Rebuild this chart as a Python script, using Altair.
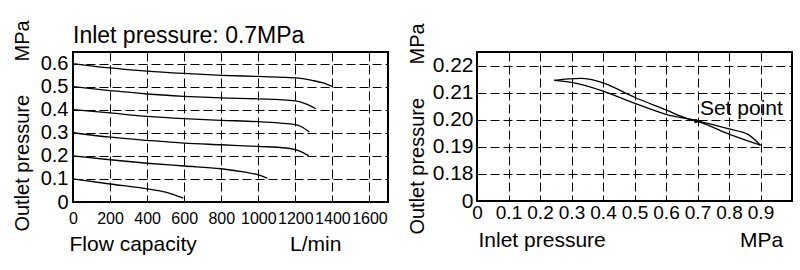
import altair as alt
import pandas as pd

# ---------------- data: left chart (flow characteristics) ----------------
set_names = ["0.6", "0.5", "0.4", "0.3", "0.2", "0.1"]
flow_06 = [0, 200, 400, 600, 800, 1000, 1200, 1290, 1350, 1400]
pres_06 = [0.600, 0.581, 0.567, 0.557, 0.549, 0.544, 0.538, 0.527, 0.516, 0.500]
flow_05 = [0, 200, 400, 600, 800, 1000, 1200, 1260, 1310]
pres_05 = [0.500, 0.483, 0.468, 0.458, 0.451, 0.447, 0.438, 0.424, 0.404]
flow_04 = [0, 200, 400, 600, 800, 1000, 1200, 1235, 1275]
pres_04 = [0.400, 0.386, 0.371, 0.361, 0.354, 0.348, 0.335, 0.325, 0.303]
flow_03 = [0, 200, 400, 600, 800, 1000, 1150, 1220, 1272]
pres_03 = [0.300, 0.281, 0.267, 0.255, 0.248, 0.241, 0.234, 0.222, 0.201]
flow_02 = [0, 200, 400, 600, 800, 930, 1000, 1050]
pres_02 = [0.200, 0.183, 0.168, 0.156, 0.144, 0.129, 0.118, 0.103]
flow_01 = [0, 200, 400, 500, 595]
pres_01 = [0.100, 0.078, 0.057, 0.043, 0.017]

left_x_ticks = [0, 200, 400, 600, 800, 1000, 1200, 1400, 1600]
left_y_ticks = [0, 0.1, 0.2, 0.3, 0.4, 0.5, 0.6]

# ---------------- data: right chart (pressure characteristics) ----------------
pathA_x = [0.245, 0.29, 0.33, 0.36, 0.40, 0.50, 0.60, 0.67, 0.70, 0.80, 0.90]
pathA_y = [0.2145, 0.2151, 0.2153, 0.2149, 0.2136, 0.2083, 0.2036, 0.2003, 0.1994, 0.1947, 0.1906]
pathB_x = [0.245, 0.30, 0.40, 0.50, 0.60, 0.70, 0.80, 0.86, 0.90]
pathB_y = [0.2145, 0.2138, 0.2106, 0.2061, 0.2020, 0.1996, 0.1966, 0.1946, 0.1906]
setpoint_x = [0.695]
setpoint_y = [0.1995]
setpoint_label = ["Set point"]
right_x_ticks = [0, 0.1, 0.2, 0.3, 0.4, 0.5, 0.6, 0.7, 0.8, 0.9]
right_y_ticks = [0.17, 0.18, 0.19, 0.20, 0.21, 0.22]

FONT = "Liberation Sans, Arial, Helvetica, sans-serif"
NB = "\u00a0"

grid_style = dict(grid=True, gridColor="black", gridDash=[9, 4], gridWidth=1,
                  gridOpacity=1, domain=False, ticks=False, tickSize=0,
                  labelColor="black", titleColor="black", titleFont=FONT,
                  titleFontWeight="normal", labelFont=FONT,
                  labelOverlap=False, labelFlush=False)

# ---------------- left chart ----------------
frames = []
for name, f, p in zip(set_names,
                      [flow_06, flow_05, flow_04, flow_03, flow_02, flow_01],
                      [pres_06, pres_05, pres_04, pres_03, pres_02, pres_01]):
    frames.append(pd.DataFrame({"flow": f, "p": p, "set": name}))
left_df = pd.concat(frames, ignore_index=True)

left = alt.Chart(left_df).mark_line(
    color="black", strokeWidth=1.3, interpolate="monotone"
).encode(
    x=alt.X("flow:Q",
            scale=alt.Scale(domain=[0, 1700], nice=False, zero=False),
            axis=alt.Axis(values=left_x_ticks, format="d",
                          title="Flow capacity" + NB * 16 + "L/min",
                          titleX=-4, titleY=48, titleAlign="left",
                          titleAnchor="start", titleBaseline="alphabetic",
                          titleFontSize=21,
                          labelFontSize=16, labelPadding=8,
                          **grid_style)),
    y=alt.Y("p:Q",
            scale=alt.Scale(domain=[0, 0.65], nice=False, zero=False),
            axis=alt.Axis(values=left_y_ticks,
                          title="Outlet pressure" + NB * 6 + "MPa",
                          titleX=-51, titleY=73.5, titleAngle=-90,
                          titleAlign="center", titleBaseline="middle",
                          titleFontSize=20,
                          labelFontSize=20, labelPadding=5,
                          labelExpr="datum.value == 0 ? '0' : format(datum.value, '.1f')",
                          **grid_style)),
    detail="set:N",
).properties(
    width=315, height=150,
    title=alt.TitleParams("Inlet pressure: 0.7MPa", anchor="start", frame="group",
                          offset=-46, baseline="alphabetic", font=FONT,
                          fontSize=23, fontWeight="normal", color="black"),
)

# ---------------- right chart ----------------
right_df = pd.concat([
    pd.DataFrame({"inlet": pathA_x, "outlet": pathA_y, "path": "A"}),
    pd.DataFrame({"inlet": pathB_x, "outlet": pathB_y, "path": "B"}),
], ignore_index=True)
sp_df = pd.DataFrame({"inlet": setpoint_x, "outlet": setpoint_y, "label": setpoint_label})

rx = alt.X("inlet:Q",
           scale=alt.Scale(domain=[0, 1.0], nice=False, zero=False),
           axis=alt.Axis(values=right_x_ticks,
                         title="Inlet pressure" + NB * 23 + "MPa",
                         titleX=1, titleY=45, titleAlign="left",
                         titleAnchor="start", titleBaseline="alphabetic",
                         titleFontSize=21,
                         labelFontSize=19, labelPadding=2,
                         labelExpr="datum.value == 0 ? '0' : format(datum.value, '.1f')",
                         **grid_style))
ry = alt.Y("outlet:Q",
           scale=alt.Scale(domain=[0.17, 0.225], nice=False, zero=False),
           axis=alt.Axis(values=right_y_ticks,
                         title="Outlet pressure" + NB * 6 + "MPa",
                         titleX=-60, titleY=76.5, titleAngle=-90,
                         titleAlign="center", titleBaseline="middle",
                         titleFontSize=20,
                         labelFontSize=21, labelPadding=4,
                         labelExpr="datum.value < 0.175 ? '0' : format(datum.value, '.2f')",
                         **grid_style))

r_lines = alt.Chart(right_df).mark_line(
    color="black", strokeWidth=1.3, interpolate="monotone"
).encode(x=rx, y=ry, detail="path:N")

r_point = alt.Chart(sp_df).mark_point(
    filled=True, color="black", size=18, opacity=1
).encode(x=rx, y=ry)

r_text = alt.Chart(sp_df).mark_text(
    align="left", baseline="middle", dx=4, dy=-12, font=FONT, fontSize=21, color="black"
).encode(x=rx, y=ry, text="label:N")

right = alt.layer(r_lines, r_point, r_text).properties(width=315, height=149)

chart = alt.hconcat(left, right, spacing=16).properties(
    padding={"left": 10, "top": 18, "right": 0, "bottom": 0},
    background="white",
).configure_view(stroke="black", strokeWidth=2)

chart.save("out.html", embed_options={"renderer": "svg", "actions": False})
